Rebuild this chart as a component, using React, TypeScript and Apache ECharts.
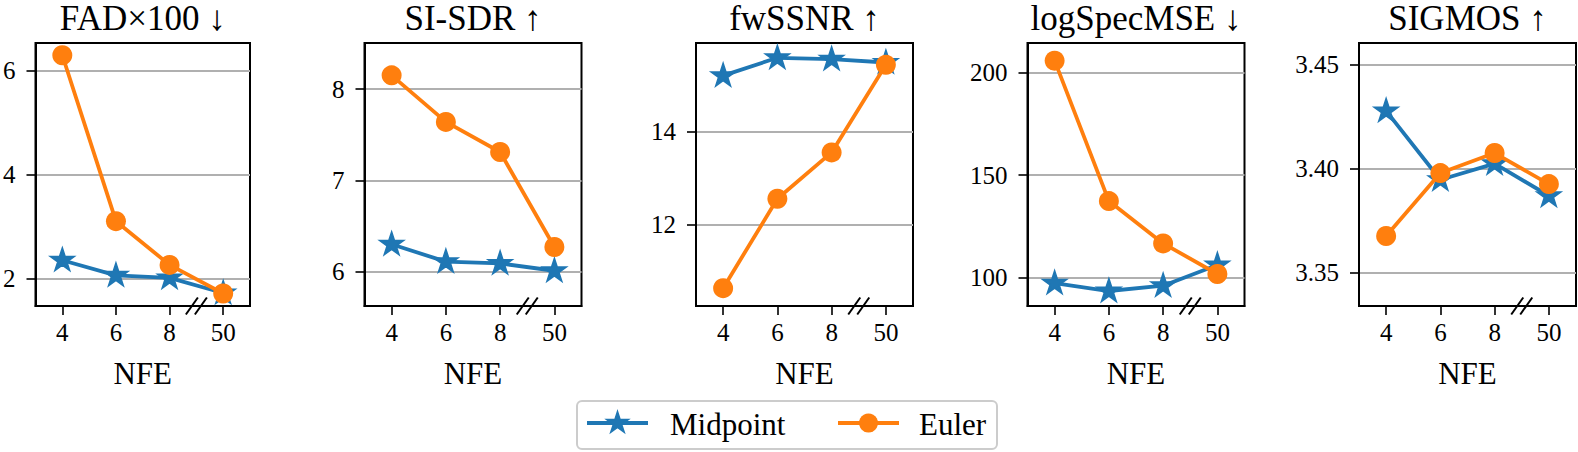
import React, { useEffect, useRef } from 'react';
import * as echarts from 'echarts';

const categories = ['4', '6', '8', '50'];
const titles = ['FAD×100 ↓', 'SI-SDR ↑', 'fwSSNR ↑', 'logSpecMSE ↓', 'SIGMOS ↑'];
const legendNames = ['Midpoint', 'Euler'];
const xAxisName = 'NFE';

const midpointFAD = [2.35, 2.06, 2.01, 1.72];
const eulerFAD = [6.29, 3.1, 2.26, 1.71];
const midpointSISDR = [6.3, 6.11, 6.09, 6.01];
const eulerSISDR = [8.15, 7.64, 7.31, 6.27];
const midpointFwSSNR = [15.19, 15.57, 15.54, 15.47];
const eulerFwSSNR = [10.65, 12.56, 13.55, 15.42];
const midpointLogSpecMSE = [97.3, 93.5, 96.1, 106.2];
const eulerLogSpecMSE = [205.7, 137.3, 116.7, 101.8];
const midpointSIGMOS = [3.4276, 3.3946, 3.4023, 3.3869];
const eulerSIGMOS = [3.3676, 3.3978, 3.4074, 3.3925];

const yTicksFAD = [2, 4, 6];
const yTicksSISDR = [6, 7, 8];
const yTicksFwSSNR = [12, 14];
const yTicksLogSpecMSE = [100, 150, 200];
const yTicksSIGMOS = [3.35, 3.4, 3.45];

const yMin = [1.47, 5.624, 10.27, 86.2, 3.334];
const yMax = [6.525, 8.504, 15.886, 214.3, 3.4602];

const midpointData = [midpointFAD, midpointSISDR, midpointFwSSNR, midpointLogSpecMSE, midpointSIGMOS];
const eulerData = [eulerFAD, eulerSISDR, eulerFwSSNR, eulerLogSpecMSE, eulerSIGMOS];
const yTicks = [yTicksFAD, yTicksSISDR, yTicksFwSSNR, yTicksLogSpecMSE, yTicksSIGMOS];
const decimals = [0, 0, 0, 0, 2];

const BLUE = '#1f77b4';
const ORANGE = '#ff7f0e';
const FONT = '"Liberation Serif", "DejaVu Serif", serif';
const STAR_PTS = [
  [0, -1], [0.2245, -0.309], [0.9511, -0.309], [0.3633, 0.118], [0.5878, 0.809],
  [0, 0.382], [-0.5878, 0.809], [-0.3633, 0.118], [-0.9511, -0.309], [-0.2245, -0.309],
];
const STAR = 'path://M' + STAR_PTS.map((p) => `${p[0] * 100},${p[1] * 100}`).join(' L') + ' Z';

const gridLefts = [33, 364.5, 696, 1027.5, 1359];
const GRID_W = 217;
const GRID_TOP = 43;
const GRID_H = 263;

export default function App() {
  const ref = useRef<HTMLDivElement>(null);

  useEffect(() => {
    document.body.style.margin = '0';
    const chart = echarts.init(ref.current!, undefined, { renderer: 'svg' });

    const grids = gridLefts.map((l) => ({
      left: l,
      top: GRID_TOP,
      width: GRID_W,
      height: GRID_H,
      show: true,
      borderColor: '#000',
      borderWidth: 2,
      backgroundColor: 'transparent',
    }));

    const xAxes = gridLefts.map((_, i) => ({
      type: 'category',
      gridIndex: i,
      data: categories,
      boundaryGap: true,
      axisLine: { show: true, lineStyle: { color: '#000', width: 2 } },
      axisTick: { show: true, alignWithLabel: true, length: 9, lineStyle: { color: '#000', width: 1.6 } },
      axisLabel: { margin: 14, fontFamily: FONT, fontSize: 25, color: '#000' },
      splitLine: { show: false },
    }));

    const yAxes = gridLefts.map((_, i) => ({
      type: 'value',
      gridIndex: i,
      min: yMin[i],
      max: yMax[i],
      axisLine: { show: true, lineStyle: { color: '#000', width: 2 } },
      axisTick: {
        show: true,
        length: 9,
        customValues: yTicks[i],
        lineStyle: { color: '#000', width: 1.6 },
      },
      axisLabel: {
        margin: 20,
        customValues: yTicks[i],
        fontFamily: FONT,
        fontSize: 25,
        color: '#000',
        formatter: (v: number) => v.toFixed(decimals[i]),
      },
      splitLine: { show: true, lineStyle: { color: '#b0b0b0', width: 2 } },
    }));

    const series: any[] = [];
    gridLefts.forEach((_, i) => {
      series.push({
        name: legendNames[0],
        type: 'line',
        xAxisIndex: i,
        yAxisIndex: i,
        data: midpointData[i],
        symbol: STAR,
        symbolSize: 24,
        symbolKeepAspect: true,
        symbolOffset: [0, -1],
        color: BLUE,
        itemStyle: { color: BLUE, borderColor: BLUE, borderWidth: 1.5 },
        lineStyle: { color: BLUE, width: 3.8 },
        z: 2,
      });
      series.push({
        name: legendNames[1],
        type: 'line',
        xAxisIndex: i,
        yAxisIndex: i,
        data: eulerData[i],
        symbol: 'circle',
        symbolSize: 20,
        color: ORANGE,
        itemStyle: { color: ORANGE },
        lineStyle: { color: ORANGE, width: 3.8 },
        z: 3,
      });
    });

    const textStyle = (text: string, size: number, align: string) => ({
      text,
      font: `normal normal ${size}px ${FONT}`,
      fontFamily: FONT,
      fontSize: size,
      fill: '#000',
      align,
      verticalAlign: 'middle',
    });

    chart.setOption({
      animation: false,
      backgroundColor: '#fff',
      grid: grids,
      xAxis: xAxes,
      yAxis: yAxes,
      series,
    });

    const g: any[] = [];
    gridLefts.forEach((_, i) => {
      const x8 = chart.convertToPixel({ xAxisIndex: i }, '8') as number;
      const x50 = chart.convertToPixel({ xAxisIndex: i }, '50') as number;
      const yb = chart.convertToPixel({ yAxisIndex: i }, yMin[i]) as number;
      const yt = chart.convertToPixel({ yAxisIndex: i }, yMax[i]) as number;
      const x0 = chart.convertToPixel({ xAxisIndex: i }, '4') as number;
      const cx = (x0 + x50) / 2;
      g.push({ type: 'text', x: cx, y: yt - 25, style: textStyle(titles[i], 35, 'center'), z: 10 });
      g.push({ type: 'text', x: cx, y: yb + 67, style: textStyle(xAxisName, 31, 'center'), z: 10 });
      const mid = (x8 + x50) / 2;
      [-4.5, 4.5].forEach((d) => {
        g.push({
          type: 'line',
          shape: { x1: mid + d - 6, y1: yb + 8.5, x2: mid + d + 6, y2: yb - 8.5 },
          style: { stroke: '#000', lineWidth: 2 },
          z: 10,
        });
      });
    });

    const LX = 577;
    const LY = 401;
    const LW = 420;
    const LH = 48;
    const cy = LY + 22;
    g.push({
      type: 'rect',
      shape: { x: LX, y: LY, width: LW, height: LH, r: 5 },
      style: { fill: '#fff', stroke: '#cccccc', lineWidth: 2 },
      z: 20,
    });
    const items = [
      { x: LX + 10, color: BLUE, marker: 'star', textX: LX + 93 },
      { x: LX + 261, color: ORANGE, marker: 'circle', textX: LX + 342 },
    ];
    items.forEach((it, k) => {
      g.push({
        type: 'line',
        shape: { x1: it.x, y1: cy, x2: it.x + 61, y2: cy },
        style: { stroke: it.color, lineWidth: 3.8 },
        z: 21,
      });
      const mx = it.x + 30.5;
      if (it.marker === 'star') {
        g.push({
          type: 'polygon',
          shape: { points: STAR_PTS.map((p) => [mx + p[0] * 11.5, cy + p[1] * 11.5]) },
          style: { fill: it.color, stroke: it.color, lineWidth: 1.5 },
          z: 22,
        });
      } else {
        g.push({
          type: 'circle',
          shape: { cx: mx, cy, r: 9.5 },
          style: { fill: it.color },
          z: 22,
        });
      }
      g.push({ type: 'text', x: it.textX, y: cy + 1, style: textStyle(legendNames[k], 31, 'left'), z: 22 });
    });

    chart.setOption({ graphic: g });

    return () => chart.dispose();
  }, []);

  return (
    <div
      ref={ref}
      style={{ position: 'fixed', left: 0, top: 0, width: 1578, height: 452, background: '#fff' }}
    />
  );
}
